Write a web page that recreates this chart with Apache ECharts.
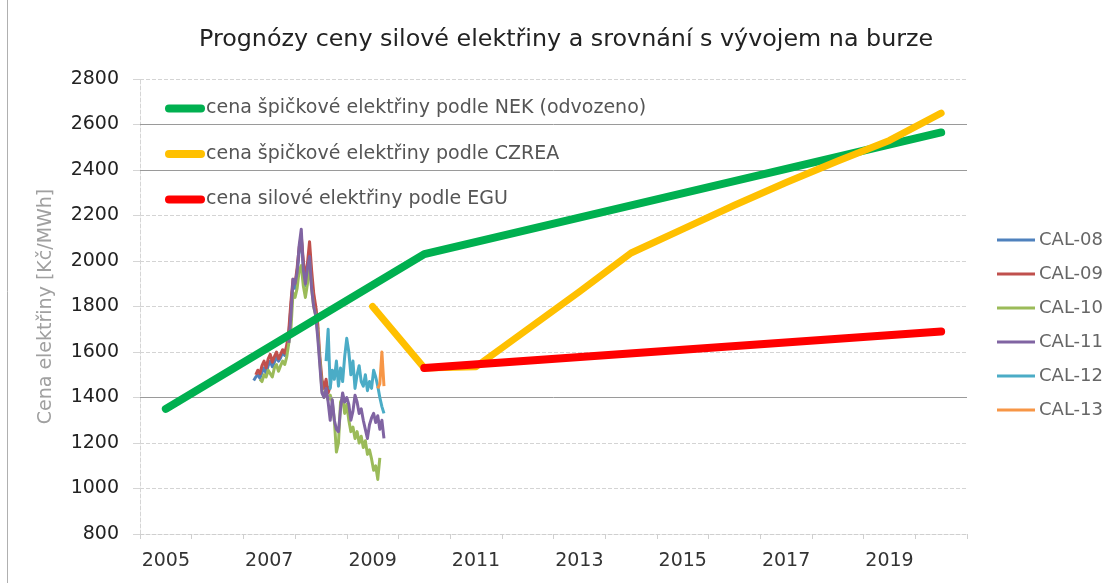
<!DOCTYPE html>
<html>
<head>
<meta charset="utf-8">
<script src="https://cdn.jsdelivr.net/npm/echarts@6/dist/echarts.min.js"></script>
<style>
html,body{margin:0;padding:0;background:#fff;}
#c{width:1115px;height:583px;}
</style>
</head>
<body>
<div id="c"></div>
<script>
// ---- data ----
const titleText = 'Prognózy ceny silové elektřiny a srovnání s vývojem na burze';
const yAxisName = 'Cena elektřiny [Kč/MWh]';
const yearTickLabels = [2005, 2007, 2009, 2011, 2013, 2015, 2017, 2019];
const yearTickMarks = [2004.5, 2005.5, 2006.5, 2007.5, 2008.5, 2009.5, 2010.5, 2011.5, 2012.5, 2013.5, 2014.5, 2015.5, 2016.5, 2017.5, 2018.5, 2019.5, 2020.5];

const nekName = 'cena špičkové elektřiny podle NEK (odvozeno)';
const nekYears = [2005, 2010, 2020];
const nekValues = [1350, 2030, 2565];

const czreaName = 'cena špičkové elektřiny podle CZREA';
const czreaYears = [2009, 2010, 2011, 2012, 2013, 2014, 2015, 2016, 2017, 2018, 2019, 2020];
const czreaValues = [1800, 1530, 1535, 1700, 1865, 2035, 2140, 2245, 2345, 2440, 2530, 2650];

const eguName = 'cena silové elektřiny podle EGU';
const eguYears = [2010, 2020];
const eguValues = [1530, 1690];

const calNames = ['CAL-08', 'CAL-09', 'CAL-10', 'CAL-11', 'CAL-12', 'CAL-13'];
const calTimes = [
 2006.70, 2006.74, 2006.78, 2006.82, 2006.86, 2006.90, 2006.94, 2006.98,
 2007.02, 2007.06, 2007.10, 2007.14, 2007.18, 2007.22, 2007.26, 2007.30,
 2007.34, 2007.38, 2007.42, 2007.46, 2007.50, 2007.54, 2007.58, 2007.62,
 2007.66, 2007.70, 2007.74, 2007.78, 2007.82, 2007.86, 2007.90, 2007.94,
 2007.98, 2008.02, 2008.06, 2008.10, 2008.14, 2008.18, 2008.22, 2008.26,
 2008.30, 2008.34, 2008.38, 2008.42, 2008.46, 2008.50, 2008.54, 2008.58,
 2008.62, 2008.66, 2008.70, 2008.74, 2008.78, 2008.82, 2008.86, 2008.90,
 2008.94, 2008.98, 2009.02, 2009.06, 2009.10, 2009.14, 2009.18, 2009.22
];
const n = null;
const cal08 = [
 1475, 1490, 1500, 1485, 1510, 1530, 1505, 1540,
 1560, 1535, 1555, 1580, 1560, 1575, 1600, 1585,
 1620, 1680, 1800, 1900, 1880, 1950, 2040, 2100,
 1980, 1890, 1960, 2040, 1920, 1830, 1790, 1700,
 n, n, n, n, n, n, n, n,
 n, n, n, n, n, n, n, n,
 n, n, n, n, n, n, n, n,
 n, n, n, n, n, n, n, n
];
const cal09 = [
 n, 1500, 1520, 1505, 1540, 1560, 1530, 1570,
 1590, 1555, 1580, 1600, 1570, 1590, 1610, 1595,
 1630, 1700, 1820, 1920, 1900, 1970, 2060, 2110,
 2000, 1920, 1990, 2085, 1960, 1860, 1800, 1720,
 1580, 1480, 1440, 1480, 1420, 1450, n, n,
 n, n, n, n, n, n, n, n,
 n, n, n, n, n, n, n, n,
 n, n, n, n, n, n, n, n
];
const cal10 = [
 n, n, n, 1480, 1470, 1500, 1490, 1520,
 1505, 1490, 1530, 1545, 1515, 1540, 1560, 1545,
 1580, 1640, 1700, 1860, 1840, 1880, 1960, 1980,
 1890, 1840, 1900, 2000, 1880, 1800, 1760, 1680,
 1560, 1430, 1400, 1420, 1390, 1410, 1380, 1300,
 1160, 1200, 1380, 1400, 1330, 1370, 1300, 1250,
 1270, 1220, 1250, 1200, 1230, 1180, 1210, 1150,
 1170, 1130, 1080, 1100, 1040, 1135, n, n
];
const cal11 = [
 n, n, n, n, n, n, n, n,
 n, n, n, n, n, n, n, n,
 n, 1640, 1760, 1920, 1900, 1950, 2070, 2140,
 1960, 1900, 1970, 2020, 1880, 1800, 1760, 1660,
 1540, 1420, 1400, 1440, 1380, 1300, 1390, 1300,
 1260, 1250, 1350, 1420, 1380, 1400, 1370, 1300,
 1340, 1410, 1380, 1330, 1350, 1300, 1260, 1220,
 1280, 1310, 1330, 1290, 1320, 1260, 1300, 1220
];
const cal12 = [
 n, n, n, n, n, n, n, n,
 n, n, n, n, n, n, n, n,
 n, n, n, n, n, n, n, n,
 n, n, n, n, n, n, n, n,
 n, n, n, 1560, 1700, 1440, 1520, 1480,
 1560, 1450, 1530, 1470, 1580, 1660, 1600, 1500,
 1560, 1440, 1500, 1540, 1470, 1450, 1500, 1430,
 1470, 1440, 1520, 1490, 1450, 1400, 1360, 1330
];
const cal13 = [
 n, n, n, n, n, n, n, n,
 n, n, n, n, n, n, n, n,
 n, n, n, n, n, n, n, n,
 n, n, n, n, n, n, n, n,
 n, n, n, n, n, n, n, n,
 n, n, n, n, n, n, n, n,
 n, n, n, n, n, n, n, n,
 n, n, n, n, 1440, 1460, 1600, 1450
];
const calValues = [cal08, cal09, cal10, cal11, cal12, cal13];
const calColors = ['#4F81BD', '#C0504D', '#9BBB59', '#8064A2', '#4BACC6', '#F79646'];
const strongGridValues = [2600, 2400, 1400];

// ---- chart ----
const FONT = 'DejaVu Sans';
const pairs = (xs, ys) => xs.map((x, i) => [x, ys[i]]);
const capsule = 'path://M4,0 L36,0 A4,4 0 0 1 36,8 L4,8 A4,4 0 0 1 4,0 Z';

const series = [];
series.push({
  name: 'gridStrong', type: 'line', data: [], z: 1, silent: true,
  markLine: {
    silent: true, symbol: 'none', label: {show: false},
    lineStyle: {color: '#9a9a9a', type: 'solid', width: 1},
    data: strongGridValues.map(v => ({yAxis: v}))
  }
});
calNames.forEach((nm, k) => {
  series.push({
    name: nm, type: 'line', data: pairs(calTimes, calValues[k]),
    showSymbol: false, connectNulls: false, z: 2 + k,
    color: calColors[k],
    lineStyle: {width: 3, color: calColors[k], join: 'round'}
  });
});
series.push({
  name: nekName, type: 'line', data: pairs(nekYears, nekValues), showSymbol: false, z: 10,
  color: '#00B050', lineStyle: {width: 8, color: '#00B050', cap: 'round', join: 'round'}
});
series.push({
  name: czreaName, type: 'line', data: pairs(czreaYears, czreaValues), showSymbol: false, z: 11,
  color: '#FFC000', lineStyle: {width: 7, color: '#FFC000', cap: 'round', join: 'round'}
});
series.push({
  name: eguName, type: 'line', data: pairs(eguYears, eguValues), showSymbol: false, z: 12,
  color: '#FF0000', lineStyle: {width: 8, color: '#FF0000', cap: 'round', join: 'round'}
});

const chart = echarts.init(document.getElementById('c'), null, {renderer: 'canvas'});
chart.setOption({
  animation: false,
  backgroundColor: '#ffffff',
  textStyle: {fontFamily: FONT},
  title: {
    text: titleText, left: 199, top: 28, padding: 0,
    textStyle: {fontFamily: FONT, fontSize: 23.8, fontWeight: 'normal', color: '#222'}
  },
  graphic: [{
    type: 'line', shape: {x1: 7.5, y1: 0, x2: 7.5, y2: 583},
    style: {stroke: '#b0b0b0', lineWidth: 1}, silent: true
  }],
  legend: [{
    data: [nekName, czreaName, eguName],
    orient: 'vertical', left: 165, top: 99, padding: 0,
    itemWidth: 40, itemHeight: 8, itemGap: 26.5, icon: capsule,
    textStyle: {fontFamily: FONT, fontSize: 19, color: '#555', padding: [0, 0, 0, -4]},
    selectedMode: false
  }, {
    data: calNames,
    orient: 'vertical', left: 997, top: 231, padding: 0,
    itemWidth: 38, itemHeight: 3, itemGap: 16, icon: 'rect',
    textStyle: {fontFamily: FONT, fontSize: 18, color: '#666', padding: [0, 0, 0, -1]},
    selectedMode: false
  }],
  grid: {left: 140, right: 148, top: 79, bottom: 49, containLabel: false},
  xAxis: {
    type: 'value', min: 2004.5, max: 2020.5,
    axisLine: {show: true, lineStyle: {color: '#cfcfcf', type: 'dashed'}},
    axisTick: {show: true, length: 5, customValues: yearTickMarks, lineStyle: {color: '#cfcfcf'}},
    axisLabel: {customValues: yearTickLabels, margin: 18, fontFamily: FONT, fontSize: 19, color: '#333',
      formatter: v => String(v)},
    splitLine: {show: false}
  },
  yAxis: {
    type: 'value', min: 800, max: 2800, interval: 200,
    name: yAxisName, nameLocation: 'middle', nameGap: 84, nameRotate: 90,
    nameTextStyle: {fontFamily: FONT, fontSize: 19, color: '#a0a0a0'},
    axisLine: {show: true, lineStyle: {color: '#d5d5d5', type: 'dashed'}},
    axisTick: {show: true, inside: false, length: 7, lineStyle: {color: '#d5d5d5'}},
    axisLabel: {margin: 21, fontFamily: FONT, fontSize: 19, color: '#222', formatter: v => String(v)},
    splitLine: {show: true, lineStyle: {color: '#d4d4d4', type: 'dashed', width: 1}}
  },
  series: series
});
</script>
</body>
</html>
